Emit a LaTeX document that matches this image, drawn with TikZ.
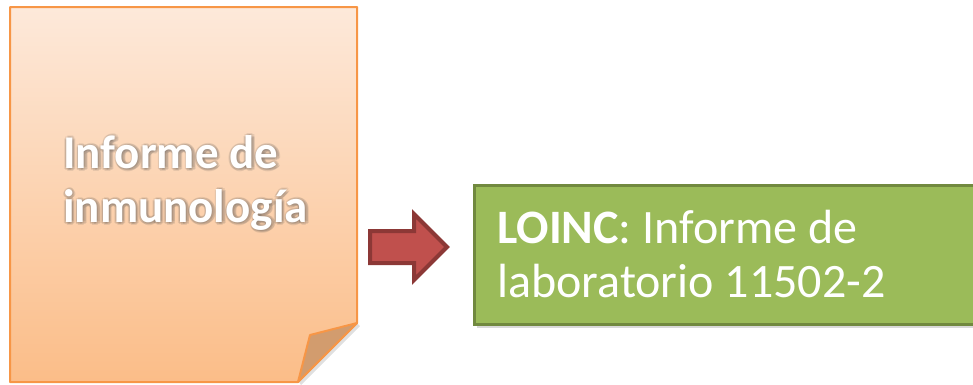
\documentclass[tikz,border=0pt]{standalone}
\usepackage{fontspec}
\setmainfont{Carlito}
\usetikzlibrary{positioning,calc}
\definecolor{pageline}{HTML}{F79646}
\definecolor{pagetop}{HTML}{FDE9DA}
\definecolor{pagebottom}{HTML}{FBBD88}
\definecolor{pagefold}{HTML}{D29C6E}
\definecolor{arrowfill}{HTML}{C0504D}
\definecolor{arrowline}{HTML}{8C3836}
\definecolor{boxfill}{HTML}{9BBB59}
\definecolor{boxline}{HTML}{71893F}
\begin{document}
\begin{tikzpicture}[x=1pt, y=-1pt,
    pagetext/.style={align=left, anchor=base west, inner sep=0pt, font=\fontsize{47}{54}\selectfont\bfseries},
    loinctext/.style={align=left, anchor=base west, inner sep=0pt, text=white, font=\fontsize{48}{54}\selectfont}]
    \useasboundingbox (0,0) rectangle (973,384);
    % the page, with its corner folded over
    \fill[black!12] (360,326) -- (301,385) -- (299,382) -- (357,323) -- cycle;
    \shade[top color=pagetop, bottom color=pagebottom] (10,7) -- (357,7) -- (357,323) -- (298,382) -- (10,382) -- cycle;
    \draw[pageline, line width=2pt, line join=round] (10,7) -- (357,7) -- (357,323) -- (298,382) -- (10,382) -- cycle;
    \filldraw[fill=pagefold, draw=pageline, line width=2pt, line join=round] (357,323) -- (310,335) -- (298,382) -- cycle;
    % soft glow round the page title
    \foreach \a in {0,45,...,315}
        \node[pagetext, text=black!70, opacity=.12] at ($(64,223)+(\a:2.5)$) {Informe de\\inmunología};
    \node[pagetext, text=white] (page) at (63,222) {Informe de\\inmunología};
    % block arrow
    \filldraw[fill=arrowfill, draw=arrowline, line width=4pt, line join=miter] (370,231) -- (414,231) -- (414,214) -- (447,247) -- (414,280) -- (414,263) -- (370,263) -- cycle;
    % LOINC box
    \fill[black!15] (477,188) rectangle (985,328);
    \filldraw[fill=boxfill, draw=boxline, line width=3pt] (474,185) rectangle (985,324);
    \node[loinctext] (loinc) at (497,297) {\textbf{LOINC}: Informe de\\laboratorio 11502-2};
\end{tikzpicture}
\end{document}
